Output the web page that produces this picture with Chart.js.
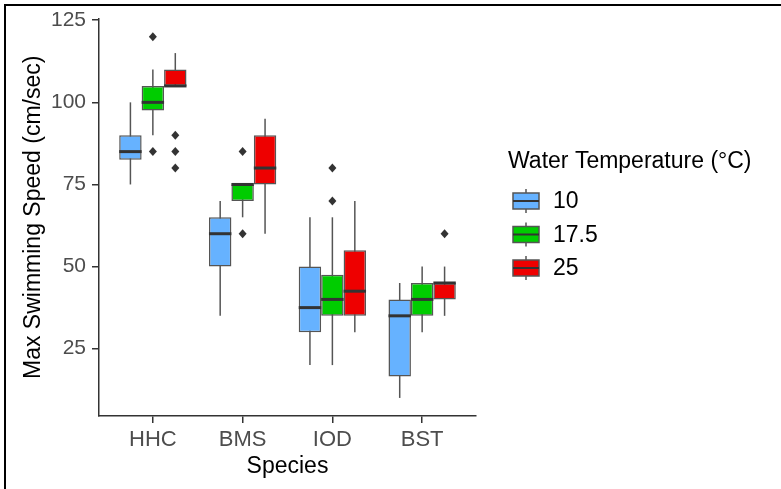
<!DOCTYPE html>
<html lang="en">
<head>
    <meta charset="UTF-8">
    <title>Max Swimming Speed</title>
    <script src="https://cdn.jsdelivr.net/npm/chart.js"></script>
    <style>
        body { margin: 0; background: #fff; }
        #wrap { width: 781px; height: 489px; position: relative; }
    </style>
</head>
<body>
<div id="wrap"><canvas id="myChart"></canvas></div>
<script>
    // categories and groups
    var species = ['HHC', 'BMS', 'IOD', 'BST'];
    var temps = ['10', '17.5', '25'];
    var yTicks = [25, 50, 75, 100, 125];

    // box stats per temperature (one value per species)
    var low10 = [75, 35, 20, 10];
    var q1_10 = [82.5, 50, 30, 16.5];
    var med10 = [85, 60, 37.5, 35];
    var q3_10 = [90, 65, 50, 40];
    var high10 = [100, 70, 65, 45];
    var out10 = [[], [], [], []];

    var low17 = [90, 65, 20, 30];
    var q1_17 = [97.5, 70, 35, 35];
    var med17 = [100, 75, 40, 40];
    var q3_17 = [105, 75, 47.5, 45];
    var high17 = [110, 75, 65, 50];
    var out17 = [[85, 120], [60, 85], [70, 80], []];

    var low25 = [105, 60, 30, 35];
    var q1_25 = [105, 75, 35, 40];
    var med25 = [105, 80, 42.5, 45];
    var q3_25 = [110, 90, 55, 45];
    var high25 = [115, 95, 70, 50];
    var out25 = [[80, 85, 90], [], [], [60]];

    var colores = ['#66B2FF', '#00CC00', '#EE0000'];
    var stats = [
        {low: low10, q1: q1_10, med: med10, q3: q3_10, high: high10, out: out10},
        {low: low17, q1: q1_17, med: med17, q3: q3_17, high: high17, out: out17},
        {low: low25, q1: q1_25, med: med25, q3: q3_25, high: high25, out: out25}
    ];

    var fuente = '"Liberation Sans", Arial, sans-serif';

    function cajas(s) {
        return species.map(function (n, j) {
            return {x: j + 1, y: [s.q1[j], s.q3[j]]};
        });
    }

    // whiskers behind boxes, medians and outliers on top
    var boxPlugin = {
        id: 'boxPlugin',
        beforeDatasetsDraw: function (chart) {
            var ctx = chart.ctx, y = chart.scales.y;
            ctx.save();
            ctx.strokeStyle = '#555';
            ctx.lineWidth = 1.5;
            stats.forEach(function (s, i) {
                chart.getDatasetMeta(i).data.forEach(function (bar, j) {
                    ctx.beginPath();
                    ctx.moveTo(bar.x, y.getPixelForValue(s.low[j]));
                    ctx.lineTo(bar.x, y.getPixelForValue(s.high[j]));
                    ctx.stroke();
                });
            });
            ctx.restore();
        },
        afterDatasetsDraw: function (chart) {
            var ctx = chart.ctx, y = chart.scales.y;
            ctx.save();
            stats.forEach(function (s, i) {
                chart.getDatasetMeta(i).data.forEach(function (bar, j) {
                    var py = y.getPixelForValue(s.med[j]);
                    ctx.strokeStyle = '#333';
                    ctx.lineWidth = 3;
                    ctx.beginPath();
                    ctx.moveTo(bar.x - bar.width / 2, py);
                    ctx.lineTo(bar.x + bar.width / 2, py);
                    ctx.stroke();
                    ctx.fillStyle = '#333';
                    s.out[j].forEach(function (v) {
                        var oy = y.getPixelForValue(v);
                        ctx.beginPath();
                        ctx.moveTo(bar.x, oy - 4.5);
                        ctx.lineTo(bar.x + 4, oy);
                        ctx.lineTo(bar.x, oy + 4.5);
                        ctx.lineTo(bar.x - 4, oy);
                        ctx.closePath();
                        ctx.fill();
                    });
                });
            });
            ctx.restore();
        },
        afterDraw: function (chart) {
            var ctx = chart.ctx;
            ctx.save();
            // frame (top and left)
            ctx.strokeStyle = '#000';
            ctx.lineWidth = 2;
            ctx.beginPath();
            ctx.moveTo(5, 489);
            ctx.lineTo(5, 5);
            ctx.lineTo(781, 5);
            ctx.stroke();

            // legend
            ctx.fillStyle = '#000';
            ctx.textBaseline = 'middle';
            ctx.textAlign = 'left';
            ctx.font = '23px ' + fuente;
            ctx.fillText('Water Temperature (°C)', 508, 162);
            var filas = [201, 234.5, 268];
            temps.forEach(function (t, i) {
                var cy = filas[i];
                ctx.strokeStyle = '#555';
                ctx.lineWidth = 1.5;
                ctx.beginPath();
                ctx.moveTo(526, cy - 12);
                ctx.lineTo(526, cy + 12);
                ctx.stroke();
                ctx.fillStyle = colores[i];
                ctx.fillRect(513, cy - 8, 26, 16);
                ctx.strokeRect(513, cy - 8, 26, 16);
                ctx.strokeStyle = '#333';
                ctx.lineWidth = 2;
                ctx.beginPath();
                ctx.moveTo(513, cy);
                ctx.lineTo(539, cy);
                ctx.stroke();
                ctx.fillStyle = '#000';
                ctx.fillText(t, 553, cy + 1);
            });
            ctx.restore();
        }
    };

    var ctx = document.getElementById('myChart').getContext('2d');
    var myChart = new Chart(ctx, {
        type: 'bar',
        data: {
            datasets: temps.map(function (t, i) {
                return {
                    label: t,
                    data: cajas(stats[i]),
                    backgroundColor: colores[i],
                    borderColor: '#555',
                    borderWidth: 1.5,
                    borderSkipped: false,
                    categoryPercentage: 0.75,
                    barPercentage: 1
                };
            })
        },
        options: {
            responsive: true,
            maintainAspectRatio: false,
            animation: false,
            layout: {padding: {left: 0, right: 305, top: 17, bottom: 0}},
            plugins: {
                legend: {display: false},
                tooltip: {enabled: false}
            },
            scales: {
                x: {
                    type: 'linear',
                    min: 0.4,
                    max: 4.6,
                    offset: false,
                    afterBuildTicks: function (s) {
                        s.ticks = species.map(function (n, j) { return {value: j + 1}; });
                    },
                    afterFit: function (s) { s.height = 73; },
                    grid: {display: true, offset: false, drawOnChartArea: false, drawTicks: true, tickLength: 7, color: '#333', lineWidth: 1.5},
                    border: {display: true, color: '#333', width: 1.5},
                    ticks: {
                        color: '#4d4d4d',
                        font: {family: fuente, size: 22},
                        padding: 4,
                        maxRotation: 0,
                        callback: function (v) { return species[Math.round(v) - 1]; }
                    },
                    title: {
                        display: true,
                        text: 'Species',
                        color: '#000',
                        font: {family: fuente, size: 23},
                        padding: {top: 0, bottom: 9}
                    }
                },
                y: {
                    min: 4.5,
                    max: 125.5,
                    afterBuildTicks: function (s) {
                        s.ticks = yTicks.map(function (v) { return {value: v}; });
                    },
                    afterFit: function (s) { s.width = 99; },
                    grid: {display: true, drawOnChartArea: false, drawTicks: true, tickLength: 7, color: '#333', lineWidth: 1.5},
                    border: {display: true, color: '#333', width: 1.5},
                    ticks: {
                        color: '#4d4d4d',
                        font: {family: fuente, size: 21},
                        padding: 6
                    },
                    title: {
                        display: true,
                        text: 'Max Swimming Speed (cm/sec)',
                        color: '#000',
                        font: {family: fuente, size: 23},
                        padding: {top: 20, bottom: 0}
                    }
                }
            }
        },
        plugins: [boxPlugin]
    });
</script>
</body>
</html>
